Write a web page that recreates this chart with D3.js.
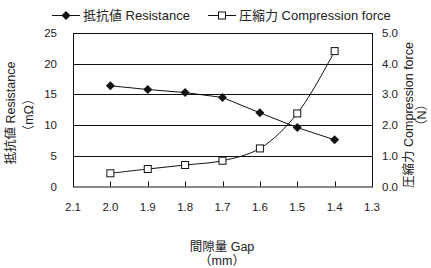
<!DOCTYPE html>
<html>
<head>
<meta charset="utf-8">
<script src="https://cdn.jsdelivr.net/npm/d3@7"></script>
<style>
  body { margin: 0; background: #fff; }
  svg text { font-family: "Liberation Sans", "Noto Sans CJK JP", sans-serif; fill: #222; }
</style>
</head>
<body>
<svg id="chart" width="431" height="268"></svg>
<script>
    // values
    var gaps = [2.0, 1.9, 1.8, 1.7, 1.6, 1.5, 1.4];
    var resistance = [16.4, 15.8, 15.3, 14.5, 12.0, 9.6, 7.6];
    var force = [0.43, 0.57, 0.70, 0.84, 1.24, 2.38, 4.41];
    var xTicks = [2.1, 2.0, 1.9, 1.8, 1.7, 1.6, 1.5, 1.4, 1.3];
    var leftTicks = [0, 5, 10, 15, 20, 25];
    var rightTicks = [0, 1, 2, 3, 4, 5];

    (function () {
        var svg = d3.select('#chart');
        var pl = 73, pr = 372, pt = 33, pb = 186.5;
        var fontSize = 11.5, titleSize = 12.5;

        var x = d3.scaleLinear().domain([2.1, 1.3]).range([pl, pr]),
            yL = d3.scaleLinear().domain([0, 25]).range([pb, pt]),
            yR = d3.scaleLinear().domain([0, 5]).range([pb, pt]);

        // grid lines
        svg.append('g').selectAll('line')
            .data(leftTicks.slice(1, -1))
            .enter().append('line')
            .attr('x1', pl).attr('x2', pr)
            .attr('y1', function (d) { return Math.round(yL(d)) + 0.5; })
            .attr('y2', function (d) { return Math.round(yL(d)) + 0.5; })
            .attr('stroke', '#111').attr('stroke-width', 1);

        // frame
        svg.append('rect')
            .attr('x', pl + 0.5).attr('y', pt + 0.5)
            .attr('width', pr - pl).attr('height', pb - pt)
            .attr('fill', 'none').attr('stroke', '#111').attr('stroke-width', 1);

        // x ticks (inside, pointing up)
        svg.append('g').selectAll('line')
            .data(xTicks)
            .enter().append('line')
            .attr('x1', function (d) { return Math.round(x(d)) + 0.5; })
            .attr('x2', function (d) { return Math.round(x(d)) + 0.5; })
            .attr('y1', pb).attr('y2', pb - 5)
            .attr('stroke', '#111');

        svg.append('g').selectAll('text')
            .data(xTicks)
            .enter().append('text')
            .attr('x', function (d) { return x(d); })
            .attr('y', 211)
            .attr('text-anchor', 'middle')
            .attr('font-size', fontSize)
            .text(function (d) { return d.toFixed(1); });

        svg.append('g').selectAll('text')
            .data(leftTicks)
            .enter().append('text')
            .attr('x', 57).attr('y', function (d) { return yL(d) + 4; })
            .attr('text-anchor', 'end')
            .attr('font-size', fontSize)
            .text(function (d) { return d; });

        svg.append('g').selectAll('text')
            .data(rightTicks)
            .enter().append('text')
            .attr('x', 382).attr('y', function (d) { return yR(d) + 4; })
            .attr('font-size', fontSize)
            .text(function (d) { return d.toFixed(1); });

        // axis titles
        function vtitle(cx, cy, txt) {
            svg.append('text')
                .attr('transform', 'translate(' + cx + ',' + cy + ') rotate(-90)')
                .attr('text-anchor', 'middle')
                .attr('font-size', titleSize)
                .text(txt);
        }
        vtitle(15, 113, '抵抗値 Resistance');
        vtitle(33, 115, '（mΩ）');
        vtitle(413, 115, '圧縮力 Compression force');
        vtitle(426, 115, '（N）');

        svg.append('text').attr('x', 222).attr('y', 251)
            .attr('text-anchor', 'middle').attr('font-size', titleSize).text('間隙量 Gap');
        svg.append('text').attr('x', 222).attr('y', 265)
            .attr('text-anchor', 'middle').attr('font-size', titleSize).text('（mm）');

        // lines
        var resData = gaps.map(function (g, i) { return {x: g, y: resistance[i]}; });
        var forceData = gaps.map(function (g, i) { return {x: g, y: force[i]}; });

        svg.append('path')
            .datum(resData)
            .attr('fill', 'none').attr('stroke', '#111').attr('stroke-width', 1)
            .attr('d', d3.line()
                .x(function (d) { return x(d.x); })
                .y(function (d) { return yL(d.y); }));

        svg.append('path')
            .datum(forceData)
            .attr('fill', 'none').attr('stroke', '#111').attr('stroke-width', 1)
            .attr('d', d3.line()
                .curve(d3.curveCatmullRom)
                .x(function (d) { return x(d.x); })
                .y(function (d) { return yR(d.y); }));

        var diamond = d3.symbol().type(d3.symbolSquare).size(40);

        svg.append('g').selectAll('path')
            .data(resData)
            .enter().append('path')
            .attr('transform', function (d) { return 'translate(' + x(d.x) + ',' + yL(d.y) + ') rotate(45)'; })
            .attr('d', diamond)
            .attr('fill', '#111');

        svg.append('g').selectAll('rect')
            .data(forceData)
            .enter().append('rect')
            .attr('x', function (d) { return x(d.x) - 3.5; })
            .attr('y', function (d) { return yR(d.y) - 3.5; })
            .attr('width', 7).attr('height', 7)
            .attr('fill', '#fff').attr('stroke', '#111').attr('stroke-width', 1);

        // legend
        var lg = svg.append('g');
        lg.append('line').attr('x1', 52).attr('x2', 80).attr('y1', 15.5).attr('y2', 15.5).attr('stroke', '#111');
        lg.append('path').attr('transform', 'translate(66,15.5) rotate(45)')
            .attr('d', diamond).attr('fill', '#111');
        lg.append('text').attr('x', 83).attr('y', 20).attr('font-size', 13).text('抵抗値 Resistance');

        lg.append('line').attr('x1', 208).attr('x2', 236).attr('y1', 15.5).attr('y2', 15.5).attr('stroke', '#111');
        lg.append('rect').attr('x', 218.5).attr('y', 12).attr('width', 7).attr('height', 7)
            .attr('fill', '#fff').attr('stroke', '#111');
        lg.append('text').attr('x', 239).attr('y', 20).attr('font-size', 13).text('圧縮力 Compression force');
    })();
</script>
</body>
</html>
